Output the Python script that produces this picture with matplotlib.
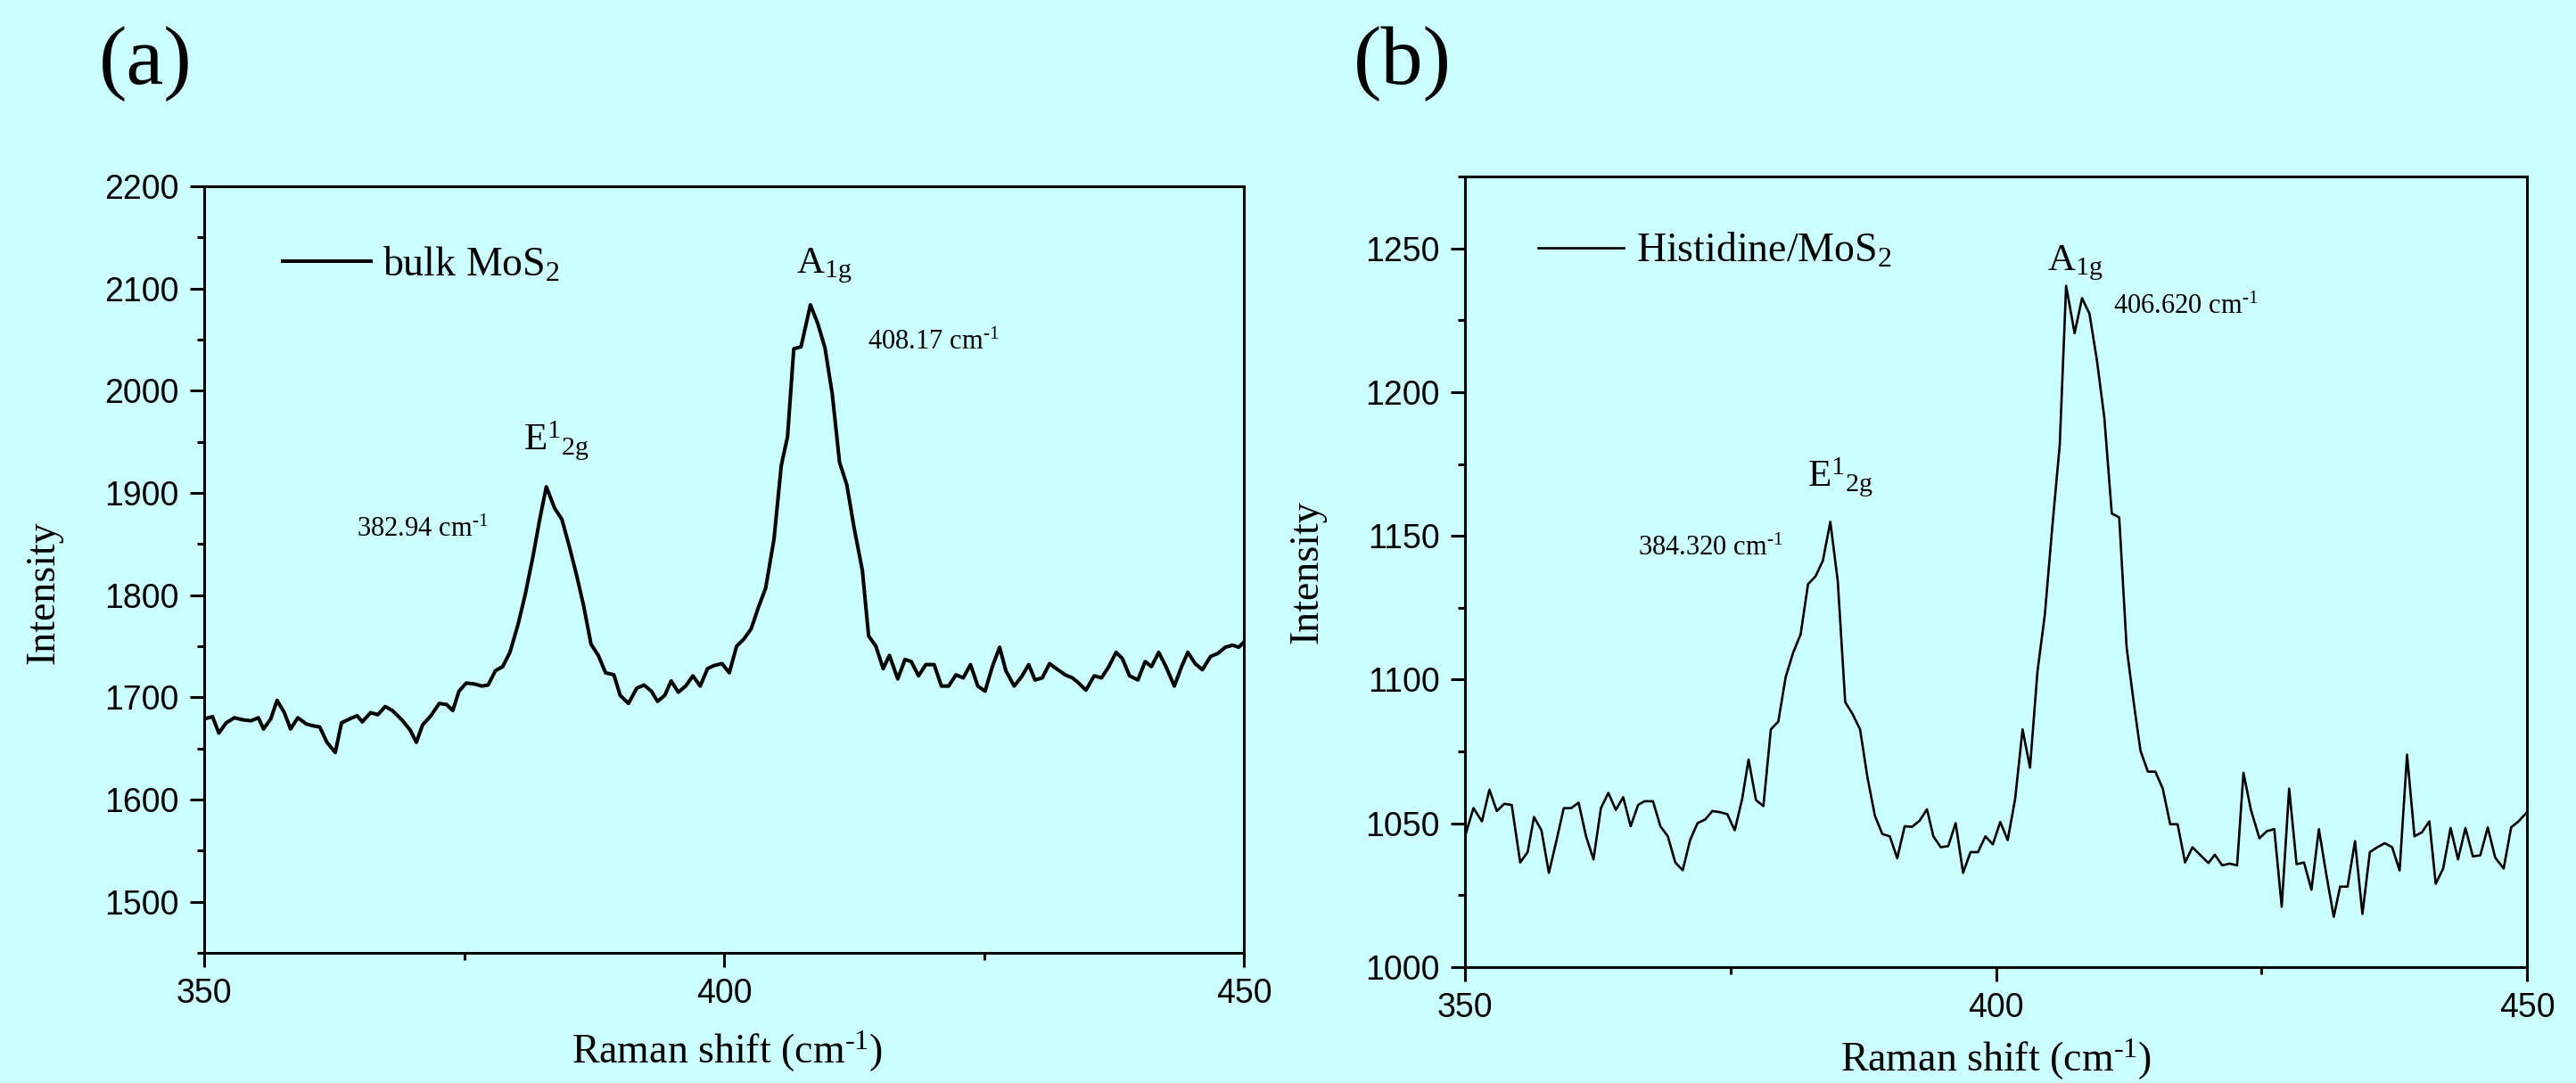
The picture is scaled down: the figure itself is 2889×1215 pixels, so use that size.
"""
Raman spectra of bulk MoS2 vs Histidine/MoS2, two panels side by side.
"""

import numpy as np
import matplotlib
matplotlib.use("Agg")
import matplotlib.pyplot as plt
from matplotlib.ticker import MultipleLocator

# panel (a): bulk MoS2
shift_a = [350.0, 350.8, 351.4, 352.1, 352.9, 353.7, 354.5, 355.2, 355.7, 356.4,
           357.0, 357.7, 358.3, 359.0, 359.8, 360.5, 361.1, 361.8, 362.6, 363.2,
           364.0, 364.7, 365.2, 366.0, 366.7, 367.4, 368.1, 369.0, 369.8, 370.4,
           371.0, 371.8, 372.6, 373.3, 373.9, 374.5, 375.2, 376.0, 376.7, 377.3,
           378.0, 378.7, 379.4, 380.2, 380.9, 381.6, 382.3, 382.9, 383.7, 384.4,
           385.1, 385.8, 386.5, 387.2, 387.9, 388.6, 389.4, 390.0, 390.8, 391.6,
           392.3, 393.0, 393.6, 394.3, 394.9, 395.6, 396.3, 397.0, 397.7, 398.4,
           399.0, 399.8, 400.5, 401.2, 401.9, 402.6, 403.3, 404.0, 404.8, 405.5,
           406.1, 406.7, 407.4, 408.3, 409.0, 409.7, 410.4, 411.1, 411.8, 412.5,
           413.3, 413.9, 414.6, 415.3, 415.9, 416.7, 417.4, 418.0, 418.7, 419.4,
           420.2, 420.9, 421.6, 422.3, 423.0, 423.7, 424.4, 425.1, 425.8, 426.5,
           427.1, 427.9, 428.6, 429.3, 429.9, 430.6, 431.3, 432.1, 432.8, 433.5,
           434.1, 434.8, 435.6, 436.3, 437.0, 437.7, 438.3, 439.0, 439.8, 440.5,
           441.1, 441.8, 442.5, 443.3, 444.0, 444.6, 445.3, 446.0, 446.8, 447.5,
           448.2, 448.9, 449.5, 450.0]
intensity_a = [1679, 1681, 1665, 1675, 1680, 1678, 1677, 1680, 1669, 1679,
               1697, 1685, 1669, 1680, 1674, 1672, 1671, 1656, 1646, 1675,
               1679, 1682, 1676, 1685, 1683, 1691, 1687, 1678, 1668, 1656,
               1673, 1682, 1694, 1693, 1687, 1706, 1714, 1713, 1711, 1712,
               1726, 1730, 1744, 1772, 1802, 1837, 1876, 1906, 1885, 1874,
               1848, 1820, 1789, 1752, 1741, 1724, 1722, 1702, 1694, 1709,
               1712, 1706, 1696, 1702, 1716, 1705, 1711, 1721, 1711, 1728,
               1731, 1733, 1724, 1750, 1757, 1767, 1788, 1807, 1855, 1927,
               1955, 2041, 2043, 2084, 2066, 2042, 1997, 1930, 1908, 1866,
               1824, 1760, 1750, 1728, 1741, 1718, 1737, 1735, 1721, 1732,
               1732, 1711, 1711, 1722, 1719, 1732, 1711, 1706, 1730, 1749,
               1726, 1711, 1720, 1732, 1717, 1719, 1733, 1727, 1722, 1719,
               1714, 1707, 1721, 1719, 1730, 1744, 1738, 1721, 1717, 1735,
               1730, 1744, 1730, 1711, 1730, 1744, 1733, 1727, 1740, 1743,
               1749, 1751, 1749, 1754]

# panel (b): Histidine/MoS2
shift_b = [350.0, 350.8, 351.6, 352.3, 353.0, 353.7, 354.4, 355.2, 355.9, 356.5,
           357.2, 357.9, 358.6, 359.3, 360.0, 360.7, 361.4, 362.1, 362.8, 363.5,
           364.2, 364.9, 365.6, 366.3, 366.9, 367.7, 368.4, 369.1, 369.8, 370.5,
           371.2, 371.9, 372.6, 373.3, 374.0, 374.7, 375.4, 376.1, 376.7, 377.4,
           378.1, 378.8, 379.5, 380.2, 380.9, 381.6, 382.3, 383.0, 383.7, 384.4,
           385.1, 385.8, 386.5, 387.2, 387.9, 388.6, 389.3, 390.0, 390.7, 391.4,
           392.1, 392.8, 393.5, 394.1, 394.8, 395.5, 396.2, 396.9, 397.6, 398.3,
           399.0, 399.7, 400.4, 401.1, 401.8, 402.5, 403.2, 403.9, 404.6, 405.3,
           406.0, 406.6, 407.4, 408.1, 408.8, 409.5, 410.2, 410.9, 411.6, 412.3,
           413.0, 413.6, 414.3, 415.0, 415.7, 416.4, 417.1, 417.8, 418.5, 419.2,
           420.0, 420.6, 421.3, 422.0, 422.7, 423.3, 424.0, 424.8, 425.5, 426.2,
           426.9, 427.6, 428.3, 429.0, 429.7, 430.4, 431.1, 431.8, 432.4, 433.1,
           433.8, 434.5, 435.2, 435.9, 436.6, 437.3, 438.0, 438.7, 439.4, 440.1,
           440.8, 441.4, 442.1, 442.8, 443.5, 444.2, 444.9, 445.6, 446.3, 447.0,
           447.8, 448.5, 449.2, 450.0]
intensity_b = [1045.5, 1055.3, 1050.7, 1061.7, 1054.3, 1056.8, 1056.4, 1036.4, 1040.0, 1052.2,
               1047.6, 1032.8, 1043.8, 1055.3, 1055.3, 1057.2, 1045.5, 1037.5, 1055.3, 1060.6,
               1054.7, 1059.1, 1049.0, 1056.4, 1057.7, 1057.7, 1049.0, 1045.5, 1036.4, 1033.7,
               1044.2, 1050.1, 1051.3, 1054.3, 1053.9, 1053.2, 1047.6, 1058.5, 1072.2, 1058.1,
               1056.0, 1082.7, 1085.4, 1101.0, 1109.4, 1115.7, 1133.2, 1135.9, 1141.4, 1154.9,
               1134.3, 1092.2, 1088.0, 1082.7, 1065.9, 1052.6, 1046.3, 1045.5, 1037.9, 1049.0,
               1048.8, 1050.9, 1054.9, 1045.5, 1041.7, 1042.1, 1050.1, 1032.8, 1040.0, 1040.0,
               1045.5, 1042.7, 1050.5, 1044.2, 1058.5, 1082.7, 1069.4, 1102.7, 1122.7, 1153.2,
               1181.6, 1237.0, 1220.5, 1232.7, 1227.3, 1211.1, 1191.1, 1157.8, 1156.4, 1111.1,
               1091.1, 1075.3, 1068.0, 1068.0, 1062.1, 1049.7, 1049.7, 1036.4, 1041.7, 1039.1,
               1036.2, 1039.1, 1035.4, 1036.0, 1035.4, 1067.6, 1054.7, 1044.8, 1047.3, 1048.0,
               1021.0, 1062.1, 1035.8, 1036.4, 1026.9, 1048.0, 1032.2, 1017.5, 1028.0, 1028.0,
               1043.8, 1018.5, 1040.0, 1041.7, 1043.1, 1041.7, 1033.6, 1073.9, 1045.5, 1046.9,
               1050.7, 1029.0, 1034.3, 1048.4, 1037.5, 1048.4, 1038.5, 1038.9, 1048.6, 1038.1,
               1034.3, 1048.6, 1050.7, 1053.9]

bg = '#CCFFFF'
serif = 'Liberation Serif'
sans = 'Liberation Sans'

plt.rcParams['font.family'] = serif
plt.rcParams['mathtext.fontset'] = 'custom'
plt.rcParams['mathtext.rm'] = serif
plt.rcParams['mathtext.it'] = serif
plt.rcParams['mathtext.bf'] = serif + ':bold'

inv_cm = r'cm$^{\text{-1}}$'

fig = plt.figure(figsize=(28.89, 12.15), dpi=100, facecolor=bg)

ax_a = fig.add_axes([0.0793, 0.1202, 0.4036, 0.7078], facecolor=bg)
ax_b = fig.add_axes([0.5687, 0.1070, 0.4123, 0.7300], facecolor=bg)

ax_a.plot(shift_a, intensity_a, color='black', lw=2.9, label=r'bulk MoS$_{\mathrm{2}}$')
ax_b.plot(shift_b, intensity_b, color='black', lw=1.9, label=r'Histidine/MoS$_{\mathrm{2}}$')

ax_a.set_ylim(1450, 2200)
ax_b.set_ylim(1000, 1275)
ax_a.yaxis.set_major_locator(MultipleLocator(100))
ax_a.yaxis.set_minor_locator(MultipleLocator(50))
ax_b.yaxis.set_major_locator(MultipleLocator(50))
ax_b.yaxis.set_minor_locator(MultipleLocator(25))

for ax in (ax_a, ax_b):
    ax.set_xlim(350, 450)
    ax.xaxis.set_major_locator(MultipleLocator(50))
    ax.xaxis.set_minor_locator(MultipleLocator(25))
    for s in ax.spines.values():
        s.set_linewidth(2.2)
    ax.tick_params(which='major', direction='out', length=11.5, width=2.2,
                   labelsize=27, pad=9, labelfontfamily=sans)
    ax.tick_params(which='minor', direction='out', length=6, width=2.2)
    ax.tick_params(top=False, right=False)
    ax.set_xlabel('Raman shift (' + inv_cm + ')', fontsize=33)
    ax.set_ylabel('Intensity', fontsize=33)

ax_a.yaxis.set_label_coords(-0.136, 0.47)
ax_b.yaxis.set_label_coords(-0.131, 0.5)
ax_a.xaxis.set_label_coords(0.503, -0.10)
ax_b.xaxis.set_label_coords(0.50, -0.089)

ax_a.legend(loc='upper left', bbox_to_anchor=(0.040, 0.970), frameon=False,
            fontsize=33, handlelength=2.15, handletextpad=0.3)
ax_b.legend(loc='upper left', bbox_to_anchor=(0.034, 0.976), frameon=False,
            fontsize=33, handlelength=2.1, handletextpad=0.3)

# peak labels
ax_a.text(406.9, 2115, r'A$_{\mathrm{1g}}$', fontsize=31)
ax_a.text(413.8, 2040, '408.17 ' + inv_cm, fontsize=22)
ax_a.text(380.7, 1942, r'E$^{\mathrm{1}}{}_{\mathrm{2g}}$', fontsize=31)
ax_a.text(364.7, 1857, '382.94 ' + inv_cm, fontsize=22)

ax_b.text(404.8, 1242.4, r'A$_{\mathrm{1g}}$', fontsize=31)
ax_b.text(411.0, 1227.3, '406.620 ' + inv_cm, fontsize=22)
ax_b.text(382.2, 1167.1, r'E$^{\mathrm{1}}{}_{\mathrm{2g}}$', fontsize=31)
ax_b.text(366.3, 1143.2, '384.320 ' + inv_cm, fontsize=22)

fig.text(0.0564, 0.9407, '(a)', fontsize=68, ha='center', va='center')
fig.text(0.5445, 0.9407, '(b)', fontsize=68, ha='center', va='center')

fig.savefig('out.png', dpi=100, facecolor=bg)
